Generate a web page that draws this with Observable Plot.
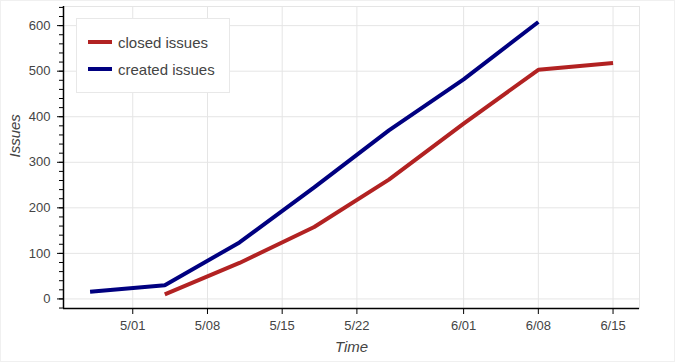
<!DOCTYPE html>
<html>
<head>
<meta charset="utf-8">
<script src="https://cdn.jsdelivr.net/npm/d3@7"></script>
<script src="https://cdn.jsdelivr.net/npm/@observablehq/plot@0.6"></script>
<style>
  html, body { margin: 0; padding: 0; background: #fff; }
  #wrap { position: relative; width: 675px; height: 362px; font-family: "Liberation Sans", Arial, Helvetica, sans-serif; }
  #border { position: absolute; left: 0; top: 0; width: 673px; height: 360px; border: 1px solid #f0f0f0; pointer-events: none; }
  #legend { position: absolute; left: 76px; top: 18px; width: 152px; height: 73px; background: #fff; border: 1px solid #e8e8e8; }
  .item { position: absolute; left: 11px; height: 20px; display: flex; align-items: center; font-size: 15px; color: #444; white-space: nowrap; }
  .sw { width: 24px; height: 4px; margin-right: 6px; }
</style>
</head>
<body>
<div id="wrap"><div id="chart"></div><div id="legend"></div><div id="border"></div></div>
<script>
// ---- data ----
const createdDates = ["2017-04-27", "2017-05-04", "2017-05-11", "2017-05-18", "2017-05-25", "2017-06-01", "2017-06-08"];
const createdIssues = [16, 30, 124, 245, 370, 482, 608];
const closedDates = ["2017-05-04", "2017-05-11", "2017-05-18", "2017-05-25", "2017-06-01", "2017-06-08", "2017-06-15"];
const closedIssues = [10, 79, 158, 262, 385, 503, 518];
const xTickDates = ["2017-05-01", "2017-05-08", "2017-05-15", "2017-05-22", "2017-06-01", "2017-06-08", "2017-06-15"];
const yTicks = [0, 100, 200, 300, 400, 500, 600];
const seriesNames = ["closed issues", "created issues"];
const seriesColors = ["#B22222", "#000080"];

const created = createdDates.map((d, i) => ({date: new Date(d), value: createdIssues[i]}));
const closed = closedDates.map((d, i) => ({date: new Date(d), value: closedIssues[i]}));
const xTicks = xTickDates.map(d => new Date(d));
const xDomain = [new Date("2017-04-24T12:15Z"), new Date("2017-06-17T11:30Z")];
const yDomain = [-21, 642];
const minorY = d3.range(-20, 641, 20);

const ink = "#444";
const grid = "#e5e5e5";

const chart = Plot.plot({
  width: 675,
  height: 362,
  marginLeft: 63,
  marginRight: 36,
  marginTop: 6,
  marginBottom: 54,
  style: {fontFamily: '"Liberation Sans", Arial, Helvetica, sans-serif', fontSize: "13px", color: ink, background: "#fff"},
  x: {type: "utc", domain: xDomain},
  y: {domain: yDomain},
  marks: [
    Plot.frame({stroke: grid}),
    Plot.gridY(yTicks, {stroke: grid, strokeOpacity: 1}),
    Plot.gridX(xTicks, {stroke: grid, strokeOpacity: 1}),
    Plot.axisY(minorY, {tickSize: 4, text: null, label: null, stroke: "#000", strokeWidth: 1}),
    Plot.axisY(yTicks, {tickSize: 6, tickPadding: 7, stroke: "#000", fill: ink, fontSize: 13, label: null}),
    Plot.axisX(xTicks, {tickSize: 6, tickPadding: 6, stroke: "#000", fill: ink, fontSize: 13, label: null, tickFormat: d3.utcFormat("%-m/%d")}),
    Plot.ruleX([xDomain[0]], {stroke: "#000", strokeWidth: 1.5}),
    Plot.ruleY([yDomain[0]], {stroke: "#000", strokeWidth: 1.5}),
    Plot.line(closed, {x: "date", y: "value", stroke: seriesColors[0], strokeWidth: 4, strokeLinecap: "butt", strokeLinejoin: "miter"}),
    Plot.line(created, {x: "date", y: "value", stroke: seriesColors[1], strokeWidth: 4, strokeLinecap: "butt", strokeLinejoin: "miter"}),
    Plot.text(["Time"], {frameAnchor: "bottom", dy: 43, fontSize: 15, fontStyle: "italic", fill: ink}),
    Plot.text(["Issues"], {frameAnchor: "left", dx: -48, rotate: -90, fontSize: 15, fontStyle: "italic", fill: ink})
  ]
});
document.getElementById("chart").appendChild(chart);

const legend = document.getElementById("legend");
seriesNames.forEach((name, i) => {
  const item = document.createElement("div");
  item.className = "item";
  item.style.top = (13 + i * 27) + "px";
  const sw = document.createElement("div");
  sw.className = "sw";
  sw.style.background = seriesColors[i];
  item.appendChild(sw);
  const label = document.createElement("span");
  label.textContent = name;
  item.appendChild(label);
  legend.appendChild(item);
});
</script>
</body>
</html>
